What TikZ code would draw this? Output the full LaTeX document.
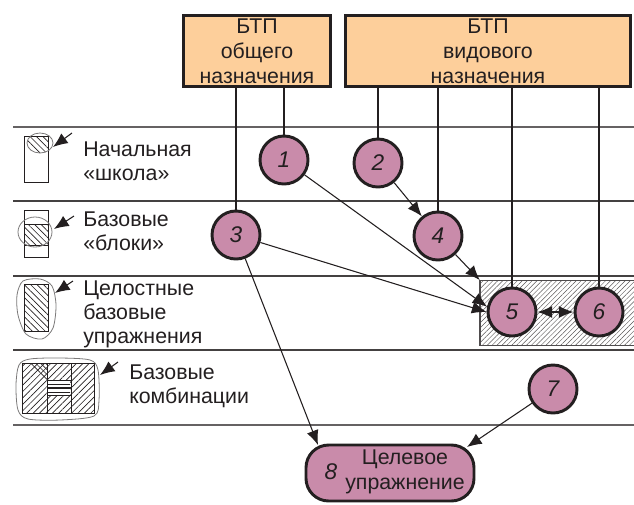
\documentclass[tikz,border=0pt]{standalone}
\usepackage{fontspec}
\setmainfont{Liberation Sans}
\usetikzlibrary{arrows.meta,patterns.meta}
\definecolor{boxfill}{HTML}{FDCF9B}
\definecolor{circfill}{HTML}{C98BAA}
\definecolor{ink}{HTML}{231F20}
\begin{document}
\begin{tikzpicture}[x=0.75pt, y=-0.75pt, every node/.style={text=ink}, main/.style={draw=ink, circle, fill=circfill, minimum size=36pt, inner sep=0pt, line width=2.2pt, font=\fontsize{17}{18}\selectfont\itshape}, info/.style={draw=ink, rectangle, fill=boxfill, line width=2.2pt, inner sep=0pt, align=center, font=\fontsize{16}{18.6}\selectfont}, goal/.style={draw=ink, rectangle, rounded corners=17pt, fill=circfill, line width=2.2pt, minimum width=126pt, minimum height=42pt, inner sep=0pt}, txt/.style={anchor=west, align=left, inner sep=0pt, font=\fontsize{16}{18}\selectfont}, n/.style={-{Latex[length=11pt,width=9pt]}, draw=ink, line width=0.8pt}, d/.style={{Latex[length=11pt,width=9pt]}-{Latex[length=11pt,width=9pt]}, draw=ink, line width=0.8pt}, v/.style={draw=ink, line width=0.9pt}, thin rule/.style={draw=ink!85, line width=1.1pt}, thick rule/.style={draw=ink!70, line width=1.9pt}, icon/.style={draw=ink, line width=0.6pt}, sketch/.style={draw=ink!60, line width=0.6pt}, hint/.style={-{Latex[length=11pt,width=9pt]}, draw=ink, line width=0.8pt}, back/.style={pattern={Lines[angle=-45,distance=3.4pt,line width=0.5pt]}, pattern color=ink}, fwd/.style={pattern={Lines[angle=45,distance=3.4pt,line width=0.5pt]}, pattern color=ink}]
                \useasboundingbox (0,0) rectangle (634,504);
                % rules
                \draw [thick rule] (13,127) -- (634,127);
                \draw [thin rule] (13,201) -- (634,201);
                \draw [thin rule] (13,276) -- (634,276);
                \draw [thin rule] (13,350) -- (634,350);
                \draw [thick rule] (13,425) -- (634,425);
                % nodes
                \node[info, minimum width=110pt, minimum height=53pt] (box1) at (257,51) {БТП\\общего\\назначения};
                \node[info, minimum width=214pt, minimum height=53pt] (box2) at (488,51) {БТП\\видового\\назначения};
                \node[rectangle, draw=ink!80, line width=1pt, pattern={Lines[angle=45,distance=2.6pt,line width=0.35pt]}, pattern color=ink!75, minimum width=117pt, minimum height=49pt, inner sep=0pt] (zone) at (558,313) {};
                \node[main] (1) at (284,160) {1};
                \node[main] (2) at (378,163) {2};
                \node[main] (3) at (236,235) {3};
                \node[main] (4) at (438,236) {4};
                \node[main] (5) at (512,312) {5};
                \node[main] (6) at (599,312) {6};
                \node[main] (7) at (553,389) {7};
                \node[goal] (8) at (390,473) {};
                \node[inner sep=0pt, font=\fontsize{17}{18}\selectfont\itshape] (num8) at (331,472) {8};
                \node[inner sep=0pt, align=center, font=\fontsize{16}{18.4}\selectfont] (text8) at (405,472) {Целевое\\упражнение};
                % labels
                \node[txt] (lab1) at (83,161) {Начальная\\«школа»};
                \node[txt] (lab2) at (83,231) {Базовые\\«блоки»};
                \node[txt] (lab3) at (83,314) {Целостные\\базовые\\упражнения};
                \node[txt] (lab4) at (129,386) {Базовые\\комбинации};
                % edges
                \draw [v] (3 |- box1.south) -- (3);
                \draw [v] (1 |- box1.south) -- (1);
                \draw [v] (2 |- box2.south) -- (2);
                \draw [v] (4 |- box2.south) -- (4);
                \draw [v] (5 |- box2.south) -- (5);
                \draw [v] (6 |- box2.south) -- (6);
                \coordinate (in8a) at (318,445);
                \coordinate (in8b) at (467,447);
                \draw [n] (1) -- (5.168);
                \draw [n] (2) -- (4);
                \draw [n] (3) -- (5.west);
                \draw [n] (3) -- (in8a);
                \draw [n] (4) -- (zone.north west);
                \draw [n] (7) -- (in8b);
                \draw [d] (5) -- (6);
                % small sketches
                \begin{scope}
                    \clip (24,136) rectangle (48,182);
                    \clip (40,143) ellipse [x radius=13, y radius=10];
                    \fill [back] (24,136) rectangle (48,155);
                \end{scope}
                \draw [icon] (24,136) rectangle (48,182);
                \draw [sketch] (40,143) ellipse [x radius=13, y radius=10];
                \fill [back] (24,224) rectangle (48,245);
                \draw [icon] (24,210) rectangle (48,257);
                \draw [icon] (24,224) -- (48,224);
                \draw [icon] (24,245) -- (48,245);
                \draw [sketch] (35,232) ellipse [x radius=17, y radius=15];
                \fill [back] (24,284) rectangle (48,331);
                \draw [icon] (24,284) rectangle (48,331);
                \draw [sketch] plot [smooth cycle] coordinates {(23,281) (40,279) (52,286) (56,305) (53,328) (42,339) (26,334) (18,315) (17,295)};
                \fill [fwd] (22,363) rectangle (94,413);
                \fill [pattern={Lines[angle=-45,distance=2.6pt,line width=0.5pt]}, pattern color=ink] (28,363) -- (47,363) -- (47,382) -- cycle;
                \fill [white] (48,380) rectangle (70,395);
                \fill [pattern={Lines[angle=0,distance=3pt,line width=0.5pt]}, pattern color=ink] (48,380) rectangle (70,395);
                \draw [icon] (22,363) rectangle (94,413);
                \draw [icon] (47,363) -- (47,413);
                \draw [icon] (71,363) -- (71,413);
                \draw [icon] (47,380) -- (71,380);
                \draw [icon] (47,387) -- (71,387);
                \draw [icon] (47,395) -- (71,395);
                \draw [sketch] plot [smooth cycle] coordinates {(30,359) (60,358) (90,360) (98,370) (99,400) (94,416) (60,420) (28,419) (18,410) (16,385) (19,365)};
                \draw [hint] (72,133) -- (53,147);
                \draw [hint] (74,216) -- (54,229);
                \draw [hint] (73,281) -- (55,293);
                \draw [hint] (118,362) -- (100,375);
            \end{tikzpicture}
\end{document}
